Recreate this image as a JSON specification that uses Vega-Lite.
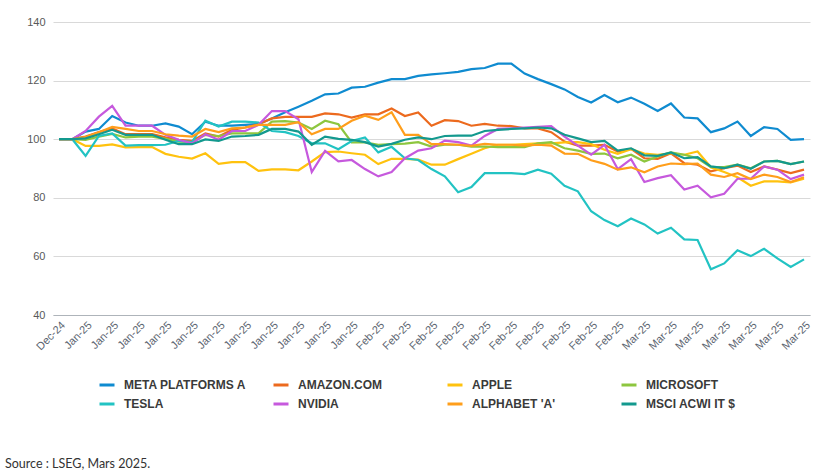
{
  "$schema": "https://vega.github.io/schema/vega-lite/v6.json",
  "width": 757,
  "height": 293,
  "autosize": {"type": "none"},
  "padding": {"left": 53, "top": 22, "right": 27, "bottom": 161},
  "background": "white",
  "title": {
    "text": "Source : LSEG, Mars 2025.",
    "orient": "bottom",
    "anchor": "start",
    "frame": "group",
    "dx": -48,
    "offset": 48,
    "font": "Lato",
    "fontSize": 12.5,
    "fontWeight": "normal",
    "color": "#333333"
  },
  "data": {
    "values": [
      {"d":"2024-12-31","s":"META PLATFORMS A","v":100},{"d":"2025-01-02","s":"META PLATFORMS A","v":100},{"d":"2025-01-03","s":"META PLATFORMS A","v":102.6},{"d":"2025-01-06","s":"META PLATFORMS A","v":103.5},{"d":"2025-01-07","s":"META PLATFORMS A","v":107.9},{"d":"2025-01-08","s":"META PLATFORMS A","v":105.7},{"d":"2025-01-09","s":"META PLATFORMS A","v":104.6},{"d":"2025-01-10","s":"META PLATFORMS A","v":104.6},{"d":"2025-01-13","s":"META PLATFORMS A","v":105.4},{"d":"2025-01-14","s":"META PLATFORMS A","v":104.3},{"d":"2025-01-15","s":"META PLATFORMS A","v":101.7},{"d":"2025-01-16","s":"META PLATFORMS A","v":106},{"d":"2025-01-17","s":"META PLATFORMS A","v":104.6},{"d":"2025-01-20","s":"META PLATFORMS A","v":104.6},{"d":"2025-01-21","s":"META PLATFORMS A","v":104.9},{"d":"2025-01-22","s":"META PLATFORMS A","v":105.2},{"d":"2025-01-23","s":"META PLATFORMS A","v":107.1},{"d":"2025-01-24","s":"META PLATFORMS A","v":109.2},{"d":"2025-01-27","s":"META PLATFORMS A","v":111.1},{"d":"2025-01-28","s":"META PLATFORMS A","v":113.1},{"d":"2025-01-29","s":"META PLATFORMS A","v":115.3},{"d":"2025-01-30","s":"META PLATFORMS A","v":115.6},{"d":"2025-01-31","s":"META PLATFORMS A","v":117.6},{"d":"2025-02-03","s":"META PLATFORMS A","v":117.9},{"d":"2025-02-04","s":"META PLATFORMS A","v":119.3},{"d":"2025-02-05","s":"META PLATFORMS A","v":120.5},{"d":"2025-02-06","s":"META PLATFORMS A","v":120.5},{"d":"2025-02-07","s":"META PLATFORMS A","v":121.6},{"d":"2025-02-10","s":"META PLATFORMS A","v":122.1},{"d":"2025-02-11","s":"META PLATFORMS A","v":122.5},{"d":"2025-02-12","s":"META PLATFORMS A","v":123},{"d":"2025-02-13","s":"META PLATFORMS A","v":123.9},{"d":"2025-02-14","s":"META PLATFORMS A","v":124.3},{"d":"2025-02-17","s":"META PLATFORMS A","v":125.8},{"d":"2025-02-18","s":"META PLATFORMS A","v":125.8},{"d":"2025-02-19","s":"META PLATFORMS A","v":122.4},{"d":"2025-02-20","s":"META PLATFORMS A","v":120.5},{"d":"2025-02-21","s":"META PLATFORMS A","v":118.8},{"d":"2025-02-24","s":"META PLATFORMS A","v":117},{"d":"2025-02-25","s":"META PLATFORMS A","v":114.4},{"d":"2025-02-26","s":"META PLATFORMS A","v":112.5},{"d":"2025-02-27","s":"META PLATFORMS A","v":115.1},{"d":"2025-02-28","s":"META PLATFORMS A","v":112.6},{"d":"2025-03-03","s":"META PLATFORMS A","v":114.2},{"d":"2025-03-04","s":"META PLATFORMS A","v":112.1},{"d":"2025-03-05","s":"META PLATFORMS A","v":109.6},{"d":"2025-03-06","s":"META PLATFORMS A","v":112.2},{"d":"2025-03-07","s":"META PLATFORMS A","v":107.4},{"d":"2025-03-10","s":"META PLATFORMS A","v":107.1},{"d":"2025-03-11","s":"META PLATFORMS A","v":102.4},{"d":"2025-03-12","s":"META PLATFORMS A","v":103.7},{"d":"2025-03-13","s":"META PLATFORMS A","v":106},{"d":"2025-03-14","s":"META PLATFORMS A","v":101.1},{"d":"2025-03-17","s":"META PLATFORMS A","v":104.1},{"d":"2025-03-18","s":"META PLATFORMS A","v":103.5},{"d":"2025-03-19","s":"META PLATFORMS A","v":99.8},{"d":"2025-03-20","s":"META PLATFORMS A","v":100},

      {"d":"2024-12-31","s":"AMAZON.COM","v":100},{"d":"2025-01-02","s":"AMAZON.COM","v":100},{"d":"2025-01-03","s":"AMAZON.COM","v":100.9},{"d":"2025-01-06","s":"AMAZON.COM","v":102.4},{"d":"2025-01-07","s":"AMAZON.COM","v":103.7},{"d":"2025-01-08","s":"AMAZON.COM","v":101.7},{"d":"2025-01-09","s":"AMAZON.COM","v":101.7},{"d":"2025-01-10","s":"AMAZON.COM","v":101.7},{"d":"2025-01-13","s":"AMAZON.COM","v":100.6},{"d":"2025-01-14","s":"AMAZON.COM","v":99.8},{"d":"2025-01-15","s":"AMAZON.COM","v":99.4},{"d":"2025-01-16","s":"AMAZON.COM","v":102},{"d":"2025-01-17","s":"AMAZON.COM","v":100.9},{"d":"2025-01-20","s":"AMAZON.COM","v":103.2},{"d":"2025-01-21","s":"AMAZON.COM","v":104},{"d":"2025-01-22","s":"AMAZON.COM","v":105.1},{"d":"2025-01-23","s":"AMAZON.COM","v":107.1},{"d":"2025-01-24","s":"AMAZON.COM","v":107.6},{"d":"2025-01-27","s":"AMAZON.COM","v":107.6},{"d":"2025-01-28","s":"AMAZON.COM","v":107.6},{"d":"2025-01-29","s":"AMAZON.COM","v":108.8},{"d":"2025-01-30","s":"AMAZON.COM","v":108.5},{"d":"2025-01-31","s":"AMAZON.COM","v":107.4},{"d":"2025-02-03","s":"AMAZON.COM","v":108.5},{"d":"2025-02-04","s":"AMAZON.COM","v":108.5},{"d":"2025-02-05","s":"AMAZON.COM","v":110.5},{"d":"2025-02-06","s":"AMAZON.COM","v":107.9},{"d":"2025-02-07","s":"AMAZON.COM","v":109.1},{"d":"2025-02-10","s":"AMAZON.COM","v":104.6},{"d":"2025-02-11","s":"AMAZON.COM","v":106.5},{"d":"2025-02-12","s":"AMAZON.COM","v":106.2},{"d":"2025-02-13","s":"AMAZON.COM","v":104.6},{"d":"2025-02-14","s":"AMAZON.COM","v":105.2},{"d":"2025-02-17","s":"AMAZON.COM","v":104.6},{"d":"2025-02-18","s":"AMAZON.COM","v":104.5},{"d":"2025-02-19","s":"AMAZON.COM","v":103.7},{"d":"2025-02-20","s":"AMAZON.COM","v":103.7},{"d":"2025-02-21","s":"AMAZON.COM","v":102.4},{"d":"2025-02-24","s":"AMAZON.COM","v":99.2},{"d":"2025-02-25","s":"AMAZON.COM","v":97.8},{"d":"2025-02-26","s":"AMAZON.COM","v":97.8},{"d":"2025-02-27","s":"AMAZON.COM","v":98.1},{"d":"2025-02-28","s":"AMAZON.COM","v":95.8},{"d":"2025-03-03","s":"AMAZON.COM","v":96.7},{"d":"2025-03-04","s":"AMAZON.COM","v":93.5},{"d":"2025-03-05","s":"AMAZON.COM","v":93.3},{"d":"2025-03-06","s":"AMAZON.COM","v":95.2},{"d":"2025-03-07","s":"AMAZON.COM","v":91.8},{"d":"2025-03-10","s":"AMAZON.COM","v":91.3},{"d":"2025-03-11","s":"AMAZON.COM","v":89},{"d":"2025-03-12","s":"AMAZON.COM","v":90.1},{"d":"2025-03-13","s":"AMAZON.COM","v":91},{"d":"2025-03-14","s":"AMAZON.COM","v":88.8},{"d":"2025-03-17","s":"AMAZON.COM","v":90.7},{"d":"2025-03-18","s":"AMAZON.COM","v":89.6},{"d":"2025-03-19","s":"AMAZON.COM","v":88.4},{"d":"2025-03-20","s":"AMAZON.COM","v":89.6},

      {"d":"2024-12-31","s":"APPLE","v":100},{"d":"2025-01-02","s":"APPLE","v":100},{"d":"2025-01-03","s":"APPLE","v":97.7},{"d":"2025-01-06","s":"APPLE","v":97.7},{"d":"2025-01-07","s":"APPLE","v":98.2},{"d":"2025-01-08","s":"APPLE","v":97.2},{"d":"2025-01-09","s":"APPLE","v":97.3},{"d":"2025-01-10","s":"APPLE","v":97.3},{"d":"2025-01-13","s":"APPLE","v":95},{"d":"2025-01-14","s":"APPLE","v":94},{"d":"2025-01-15","s":"APPLE","v":93.4},{"d":"2025-01-16","s":"APPLE","v":95.2},{"d":"2025-01-17","s":"APPLE","v":91.6},{"d":"2025-01-20","s":"APPLE","v":92.2},{"d":"2025-01-21","s":"APPLE","v":92.2},{"d":"2025-01-22","s":"APPLE","v":89.2},{"d":"2025-01-23","s":"APPLE","v":89.7},{"d":"2025-01-24","s":"APPLE","v":89.7},{"d":"2025-01-27","s":"APPLE","v":89.4},{"d":"2025-01-28","s":"APPLE","v":92.4},{"d":"2025-01-29","s":"APPLE","v":95.6},{"d":"2025-01-30","s":"APPLE","v":95.8},{"d":"2025-01-31","s":"APPLE","v":95.2},{"d":"2025-02-03","s":"APPLE","v":94.7},{"d":"2025-02-04","s":"APPLE","v":91.5},{"d":"2025-02-05","s":"APPLE","v":93.3},{"d":"2025-02-06","s":"APPLE","v":93.3},{"d":"2025-02-07","s":"APPLE","v":93},{"d":"2025-02-10","s":"APPLE","v":91.3},{"d":"2025-02-11","s":"APPLE","v":91.3},{"d":"2025-02-12","s":"APPLE","v":93.2},{"d":"2025-02-13","s":"APPLE","v":95},{"d":"2025-02-14","s":"APPLE","v":96.9},{"d":"2025-02-17","s":"APPLE","v":98.1},{"d":"2025-02-18","s":"APPLE","v":98.1},{"d":"2025-02-19","s":"APPLE","v":98.3},{"d":"2025-02-20","s":"APPLE","v":98.6},{"d":"2025-02-21","s":"APPLE","v":98.6},{"d":"2025-02-24","s":"APPLE","v":98.9},{"d":"2025-02-25","s":"APPLE","v":99},{"d":"2025-02-26","s":"APPLE","v":98.3},{"d":"2025-02-27","s":"APPLE","v":96.4},{"d":"2025-02-28","s":"APPLE","v":95},{"d":"2025-03-03","s":"APPLE","v":96.6},{"d":"2025-03-04","s":"APPLE","v":95.1},{"d":"2025-03-05","s":"APPLE","v":94.7},{"d":"2025-03-06","s":"APPLE","v":95.2},{"d":"2025-03-07","s":"APPLE","v":94.7},{"d":"2025-03-10","s":"APPLE","v":95.8},{"d":"2025-03-11","s":"APPLE","v":90.4},{"d":"2025-03-12","s":"APPLE","v":88.8},{"d":"2025-03-13","s":"APPLE","v":87},{"d":"2025-03-14","s":"APPLE","v":84.1},{"d":"2025-03-17","s":"APPLE","v":85.6},{"d":"2025-03-18","s":"APPLE","v":85.6},{"d":"2025-03-19","s":"APPLE","v":85.3},{"d":"2025-03-20","s":"APPLE","v":86.5},

      {"d":"2024-12-31","s":"MICROSOFT","v":100},{"d":"2025-01-02","s":"MICROSOFT","v":100},{"d":"2025-01-03","s":"MICROSOFT","v":99.8},{"d":"2025-01-06","s":"MICROSOFT","v":100.9},{"d":"2025-01-07","s":"MICROSOFT","v":101.8},{"d":"2025-01-08","s":"MICROSOFT","v":100.6},{"d":"2025-01-09","s":"MICROSOFT","v":100.9},{"d":"2025-01-10","s":"MICROSOFT","v":100.9},{"d":"2025-01-13","s":"MICROSOFT","v":100.1},{"d":"2025-01-14","s":"MICROSOFT","v":99.2},{"d":"2025-01-15","s":"MICROSOFT","v":99},{"d":"2025-01-16","s":"MICROSOFT","v":101.5},{"d":"2025-01-17","s":"MICROSOFT","v":101.1},{"d":"2025-01-20","s":"MICROSOFT","v":102},{"d":"2025-01-21","s":"MICROSOFT","v":102},{"d":"2025-01-22","s":"MICROSOFT","v":102},{"d":"2025-01-23","s":"MICROSOFT","v":106},{"d":"2025-01-24","s":"MICROSOFT","v":106.2},{"d":"2025-01-27","s":"MICROSOFT","v":105.7},{"d":"2025-01-28","s":"MICROSOFT","v":103.5},{"d":"2025-01-29","s":"MICROSOFT","v":106.3},{"d":"2025-01-30","s":"MICROSOFT","v":105.1},{"d":"2025-01-31","s":"MICROSOFT","v":98.9},{"d":"2025-02-03","s":"MICROSOFT","v":98.9},{"d":"2025-02-04","s":"MICROSOFT","v":98.1},{"d":"2025-02-05","s":"MICROSOFT","v":98.3},{"d":"2025-02-06","s":"MICROSOFT","v":98.5},{"d":"2025-02-07","s":"MICROSOFT","v":99},{"d":"2025-02-10","s":"MICROSOFT","v":97.5},{"d":"2025-02-11","s":"MICROSOFT","v":98.1},{"d":"2025-02-12","s":"MICROSOFT","v":98.1},{"d":"2025-02-13","s":"MICROSOFT","v":97.5},{"d":"2025-02-14","s":"MICROSOFT","v":97.5},{"d":"2025-02-17","s":"MICROSOFT","v":97.3},{"d":"2025-02-18","s":"MICROSOFT","v":97.3},{"d":"2025-02-19","s":"MICROSOFT","v":97.3},{"d":"2025-02-20","s":"MICROSOFT","v":98.6},{"d":"2025-02-21","s":"MICROSOFT","v":99},{"d":"2025-02-24","s":"MICROSOFT","v":96.9},{"d":"2025-02-25","s":"MICROSOFT","v":96.1},{"d":"2025-02-26","s":"MICROSOFT","v":95},{"d":"2025-02-27","s":"MICROSOFT","v":95.1},{"d":"2025-02-28","s":"MICROSOFT","v":93.5},{"d":"2025-03-03","s":"MICROSOFT","v":94.7},{"d":"2025-03-04","s":"MICROSOFT","v":92.4},{"d":"2025-03-05","s":"MICROSOFT","v":94.1},{"d":"2025-03-06","s":"MICROSOFT","v":95.5},{"d":"2025-03-07","s":"MICROSOFT","v":94.7},{"d":"2025-03-10","s":"MICROSOFT","v":93.5},{"d":"2025-03-11","s":"MICROSOFT","v":90.5},{"d":"2025-03-12","s":"MICROSOFT","v":90.5},{"d":"2025-03-13","s":"MICROSOFT","v":91.3},{"d":"2025-03-14","s":"MICROSOFT","v":90.1},{"d":"2025-03-17","s":"MICROSOFT","v":92.4},{"d":"2025-03-18","s":"MICROSOFT","v":92.6},{"d":"2025-03-19","s":"MICROSOFT","v":91.5},{"d":"2025-03-20","s":"MICROSOFT","v":92.4},

      {"d":"2024-12-31","s":"TESLA","v":100},{"d":"2025-01-02","s":"TESLA","v":100},{"d":"2025-01-03","s":"TESLA","v":94.3},{"d":"2025-01-06","s":"TESLA","v":101.1},{"d":"2025-01-07","s":"TESLA","v":102},{"d":"2025-01-08","s":"TESLA","v":97.8},{"d":"2025-01-09","s":"TESLA","v":98},{"d":"2025-01-10","s":"TESLA","v":98},{"d":"2025-01-13","s":"TESLA","v":98.1},{"d":"2025-01-14","s":"TESLA","v":99.4},{"d":"2025-01-15","s":"TESLA","v":99},{"d":"2025-01-16","s":"TESLA","v":106.3},{"d":"2025-01-17","s":"TESLA","v":104.3},{"d":"2025-01-20","s":"TESLA","v":106},{"d":"2025-01-21","s":"TESLA","v":106},{"d":"2025-01-22","s":"TESLA","v":105.7},{"d":"2025-01-23","s":"TESLA","v":102.8},{"d":"2025-01-24","s":"TESLA","v":102.4},{"d":"2025-01-27","s":"TESLA","v":101.1},{"d":"2025-01-28","s":"TESLA","v":98.6},{"d":"2025-01-29","s":"TESLA","v":98.6},{"d":"2025-01-30","s":"TESLA","v":96.6},{"d":"2025-01-31","s":"TESLA","v":99.4},{"d":"2025-02-03","s":"TESLA","v":100.6},{"d":"2025-02-04","s":"TESLA","v":95.5},{"d":"2025-02-05","s":"TESLA","v":97.4},{"d":"2025-02-06","s":"TESLA","v":93.5},{"d":"2025-02-07","s":"TESLA","v":92.9},{"d":"2025-02-10","s":"TESLA","v":89.8},{"d":"2025-02-11","s":"TESLA","v":87.3},{"d":"2025-02-12","s":"TESLA","v":81.9},{"d":"2025-02-13","s":"TESLA","v":83.7},{"d":"2025-02-14","s":"TESLA","v":88.4},{"d":"2025-02-17","s":"TESLA","v":88.4},{"d":"2025-02-18","s":"TESLA","v":88.4},{"d":"2025-02-19","s":"TESLA","v":88.1},{"d":"2025-02-20","s":"TESLA","v":89.6},{"d":"2025-02-21","s":"TESLA","v":88.2},{"d":"2025-02-24","s":"TESLA","v":84.1},{"d":"2025-02-25","s":"TESLA","v":82.2},{"d":"2025-02-26","s":"TESLA","v":75.4},{"d":"2025-02-27","s":"TESLA","v":72.4},{"d":"2025-02-28","s":"TESLA","v":70.3},{"d":"2025-03-03","s":"TESLA","v":72.9},{"d":"2025-03-04","s":"TESLA","v":70.9},{"d":"2025-03-05","s":"TESLA","v":67.8},{"d":"2025-03-06","s":"TESLA","v":69.8},{"d":"2025-03-07","s":"TESLA","v":65.8},{"d":"2025-03-10","s":"TESLA","v":65.6},{"d":"2025-03-11","s":"TESLA","v":55.6},{"d":"2025-03-12","s":"TESLA","v":57.6},{"d":"2025-03-13","s":"TESLA","v":62.1},{"d":"2025-03-14","s":"TESLA","v":60.1},{"d":"2025-03-17","s":"TESLA","v":62.6},{"d":"2025-03-18","s":"TESLA","v":59.3},{"d":"2025-03-19","s":"TESLA","v":56.4},{"d":"2025-03-20","s":"TESLA","v":59},

      {"d":"2024-12-31","s":"NVIDIA","v":100},{"d":"2025-01-02","s":"NVIDIA","v":100},{"d":"2025-01-03","s":"NVIDIA","v":102.8},{"d":"2025-01-06","s":"NVIDIA","v":107.7},{"d":"2025-01-07","s":"NVIDIA","v":111.4},{"d":"2025-01-08","s":"NVIDIA","v":104.6},{"d":"2025-01-09","s":"NVIDIA","v":104.6},{"d":"2025-01-10","s":"NVIDIA","v":104.6},{"d":"2025-01-13","s":"NVIDIA","v":101.5},{"d":"2025-01-14","s":"NVIDIA","v":99.8},{"d":"2025-01-15","s":"NVIDIA","v":98.6},{"d":"2025-01-16","s":"NVIDIA","v":101.7},{"d":"2025-01-17","s":"NVIDIA","v":99.8},{"d":"2025-01-20","s":"NVIDIA","v":102.8},{"d":"2025-01-21","s":"NVIDIA","v":102.8},{"d":"2025-01-22","s":"NVIDIA","v":104.9},{"d":"2025-01-23","s":"NVIDIA","v":109.6},{"d":"2025-01-24","s":"NVIDIA","v":109.6},{"d":"2025-01-27","s":"NVIDIA","v":106.8},{"d":"2025-01-28","s":"NVIDIA","v":88.8},{"d":"2025-01-29","s":"NVIDIA","v":96},{"d":"2025-01-30","s":"NVIDIA","v":92.4},{"d":"2025-01-31","s":"NVIDIA","v":92.9},{"d":"2025-02-03","s":"NVIDIA","v":89.8},{"d":"2025-02-04","s":"NVIDIA","v":87.3},{"d":"2025-02-05","s":"NVIDIA","v":88.8},{"d":"2025-02-06","s":"NVIDIA","v":93.5},{"d":"2025-02-07","s":"NVIDIA","v":96.1},{"d":"2025-02-10","s":"NVIDIA","v":96.9},{"d":"2025-02-11","s":"NVIDIA","v":99.5},{"d":"2025-02-12","s":"NVIDIA","v":99},{"d":"2025-02-13","s":"NVIDIA","v":97.8},{"d":"2025-02-14","s":"NVIDIA","v":101.1},{"d":"2025-02-17","s":"NVIDIA","v":103.5},{"d":"2025-02-18","s":"NVIDIA","v":103.7},{"d":"2025-02-19","s":"NVIDIA","v":104},{"d":"2025-02-20","s":"NVIDIA","v":104.2},{"d":"2025-02-21","s":"NVIDIA","v":104.5},{"d":"2025-02-24","s":"NVIDIA","v":100.9},{"d":"2025-02-25","s":"NVIDIA","v":97.8},{"d":"2025-02-26","s":"NVIDIA","v":94.7},{"d":"2025-02-27","s":"NVIDIA","v":98.1},{"d":"2025-02-28","s":"NVIDIA","v":89.8},{"d":"2025-03-03","s":"NVIDIA","v":93.2},{"d":"2025-03-04","s":"NVIDIA","v":85.4},{"d":"2025-03-05","s":"NVIDIA","v":86.7},{"d":"2025-03-06","s":"NVIDIA","v":87.7},{"d":"2025-03-07","s":"NVIDIA","v":82.8},{"d":"2025-03-10","s":"NVIDIA","v":84.1},{"d":"2025-03-11","s":"NVIDIA","v":80.2},{"d":"2025-03-12","s":"NVIDIA","v":81.4},{"d":"2025-03-13","s":"NVIDIA","v":86.5},{"d":"2025-03-14","s":"NVIDIA","v":86.5},{"d":"2025-03-17","s":"NVIDIA","v":90.7},{"d":"2025-03-18","s":"NVIDIA","v":89.6},{"d":"2025-03-19","s":"NVIDIA","v":86.4},{"d":"2025-03-20","s":"NVIDIA","v":87.9},

      {"d":"2024-12-31","s":"ALPHABET 'A'","v":100},{"d":"2025-01-02","s":"ALPHABET 'A'","v":100},{"d":"2025-01-03","s":"ALPHABET 'A'","v":100.7},{"d":"2025-01-06","s":"ALPHABET 'A'","v":102.4},{"d":"2025-01-07","s":"ALPHABET 'A'","v":104.2},{"d":"2025-01-08","s":"ALPHABET 'A'","v":103.5},{"d":"2025-01-09","s":"ALPHABET 'A'","v":102.8},{"d":"2025-01-10","s":"ALPHABET 'A'","v":102.8},{"d":"2025-01-13","s":"ALPHABET 'A'","v":101.7},{"d":"2025-01-14","s":"ALPHABET 'A'","v":101.2},{"d":"2025-01-15","s":"ALPHABET 'A'","v":100.9},{"d":"2025-01-16","s":"ALPHABET 'A'","v":103.5},{"d":"2025-01-17","s":"ALPHABET 'A'","v":102.4},{"d":"2025-01-20","s":"ALPHABET 'A'","v":103.7},{"d":"2025-01-21","s":"ALPHABET 'A'","v":104},{"d":"2025-01-22","s":"ALPHABET 'A'","v":104.9},{"d":"2025-01-23","s":"ALPHABET 'A'","v":104.9},{"d":"2025-01-24","s":"ALPHABET 'A'","v":104.9},{"d":"2025-01-27","s":"ALPHABET 'A'","v":105.8},{"d":"2025-01-28","s":"ALPHABET 'A'","v":101.7},{"d":"2025-01-29","s":"ALPHABET 'A'","v":103.5},{"d":"2025-01-30","s":"ALPHABET 'A'","v":103.5},{"d":"2025-01-31","s":"ALPHABET 'A'","v":106.3},{"d":"2025-02-03","s":"ALPHABET 'A'","v":108},{"d":"2025-02-04","s":"ALPHABET 'A'","v":106.6},{"d":"2025-02-05","s":"ALPHABET 'A'","v":109.2},{"d":"2025-02-06","s":"ALPHABET 'A'","v":101.5},{"d":"2025-02-07","s":"ALPHABET 'A'","v":101.5},{"d":"2025-02-10","s":"ALPHABET 'A'","v":98.3},{"d":"2025-02-11","s":"ALPHABET 'A'","v":98.3},{"d":"2025-02-12","s":"ALPHABET 'A'","v":98.1},{"d":"2025-02-13","s":"ALPHABET 'A'","v":97.7},{"d":"2025-02-14","s":"ALPHABET 'A'","v":98.4},{"d":"2025-02-17","s":"ALPHABET 'A'","v":98.1},{"d":"2025-02-18","s":"ALPHABET 'A'","v":98.1},{"d":"2025-02-19","s":"ALPHABET 'A'","v":97.8},{"d":"2025-02-20","s":"ALPHABET 'A'","v":98.1},{"d":"2025-02-21","s":"ALPHABET 'A'","v":97.8},{"d":"2025-02-24","s":"ALPHABET 'A'","v":95.1},{"d":"2025-02-25","s":"ALPHABET 'A'","v":95},{"d":"2025-02-26","s":"ALPHABET 'A'","v":92.8},{"d":"2025-02-27","s":"ALPHABET 'A'","v":91.6},{"d":"2025-02-28","s":"ALPHABET 'A'","v":89.6},{"d":"2025-03-03","s":"ALPHABET 'A'","v":90.4},{"d":"2025-03-04","s":"ALPHABET 'A'","v":88.7},{"d":"2025-03-05","s":"ALPHABET 'A'","v":90.7},{"d":"2025-03-06","s":"ALPHABET 'A'","v":91.7},{"d":"2025-03-07","s":"ALPHABET 'A'","v":91.5},{"d":"2025-03-10","s":"ALPHABET 'A'","v":91.7},{"d":"2025-03-11","s":"ALPHABET 'A'","v":87.9},{"d":"2025-03-12","s":"ALPHABET 'A'","v":87.1},{"d":"2025-03-13","s":"ALPHABET 'A'","v":88.4},{"d":"2025-03-14","s":"ALPHABET 'A'","v":86.4},{"d":"2025-03-17","s":"ALPHABET 'A'","v":87.9},{"d":"2025-03-18","s":"ALPHABET 'A'","v":87.1},{"d":"2025-03-19","s":"ALPHABET 'A'","v":85.4},{"d":"2025-03-20","s":"ALPHABET 'A'","v":87},

      {"d":"2024-12-31","s":"MSCI ACWI IT $","v":100},{"d":"2025-01-02","s":"MSCI ACWI IT $","v":100},{"d":"2025-01-03","s":"MSCI ACWI IT $","v":100.3},{"d":"2025-01-06","s":"MSCI ACWI IT $","v":101.7},{"d":"2025-01-07","s":"MSCI ACWI IT $","v":103.2},{"d":"2025-01-08","s":"MSCI ACWI IT $","v":101.5},{"d":"2025-01-09","s":"MSCI ACWI IT $","v":101.5},{"d":"2025-01-10","s":"MSCI ACWI IT $","v":101.5},{"d":"2025-01-13","s":"MSCI ACWI IT $","v":99.8},{"d":"2025-01-14","s":"MSCI ACWI IT $","v":98.3},{"d":"2025-01-15","s":"MSCI ACWI IT $","v":98.3},{"d":"2025-01-16","s":"MSCI ACWI IT $","v":99.9},{"d":"2025-01-17","s":"MSCI ACWI IT $","v":99.4},{"d":"2025-01-20","s":"MSCI ACWI IT $","v":100.9},{"d":"2025-01-21","s":"MSCI ACWI IT $","v":101.1},{"d":"2025-01-22","s":"MSCI ACWI IT $","v":101.5},{"d":"2025-01-23","s":"MSCI ACWI IT $","v":103.5},{"d":"2025-01-24","s":"MSCI ACWI IT $","v":103.5},{"d":"2025-01-27","s":"MSCI ACWI IT $","v":102.6},{"d":"2025-01-28","s":"MSCI ACWI IT $","v":98.1},{"d":"2025-01-29","s":"MSCI ACWI IT $","v":100.9},{"d":"2025-01-30","s":"MSCI ACWI IT $","v":100.1},{"d":"2025-01-31","s":"MSCI ACWI IT $","v":99.8},{"d":"2025-02-03","s":"MSCI ACWI IT $","v":99},{"d":"2025-02-04","s":"MSCI ACWI IT $","v":97.5},{"d":"2025-02-05","s":"MSCI ACWI IT $","v":98.4},{"d":"2025-02-06","s":"MSCI ACWI IT $","v":99.8},{"d":"2025-02-07","s":"MSCI ACWI IT $","v":100.6},{"d":"2025-02-10","s":"MSCI ACWI IT $","v":100},{"d":"2025-02-11","s":"MSCI ACWI IT $","v":101.1},{"d":"2025-02-12","s":"MSCI ACWI IT $","v":101.2},{"d":"2025-02-13","s":"MSCI ACWI IT $","v":101.2},{"d":"2025-02-14","s":"MSCI ACWI IT $","v":102.8},{"d":"2025-02-17","s":"MSCI ACWI IT $","v":103.2},{"d":"2025-02-18","s":"MSCI ACWI IT $","v":103.5},{"d":"2025-02-19","s":"MSCI ACWI IT $","v":103.7},{"d":"2025-02-20","s":"MSCI ACWI IT $","v":104},{"d":"2025-02-21","s":"MSCI ACWI IT $","v":103.7},{"d":"2025-02-24","s":"MSCI ACWI IT $","v":101.5},{"d":"2025-02-25","s":"MSCI ACWI IT $","v":100.3},{"d":"2025-02-26","s":"MSCI ACWI IT $","v":99},{"d":"2025-02-27","s":"MSCI ACWI IT $","v":99.4},{"d":"2025-02-28","s":"MSCI ACWI IT $","v":96.1},{"d":"2025-03-03","s":"MSCI ACWI IT $","v":96.9},{"d":"2025-03-04","s":"MSCI ACWI IT $","v":94.5},{"d":"2025-03-05","s":"MSCI ACWI IT $","v":94.3},{"d":"2025-03-06","s":"MSCI ACWI IT $","v":95.5},{"d":"2025-03-07","s":"MSCI ACWI IT $","v":93.5},{"d":"2025-03-10","s":"MSCI ACWI IT $","v":93.9},{"d":"2025-03-11","s":"MSCI ACWI IT $","v":90.7},{"d":"2025-03-12","s":"MSCI ACWI IT $","v":90.1},{"d":"2025-03-13","s":"MSCI ACWI IT $","v":91.3},{"d":"2025-03-14","s":"MSCI ACWI IT $","v":89.9},{"d":"2025-03-17","s":"MSCI ACWI IT $","v":92.4},{"d":"2025-03-18","s":"MSCI ACWI IT $","v":92.6},{"d":"2025-03-19","s":"MSCI ACWI IT $","v":91.5},{"d":"2025-03-20","s":"MSCI ACWI IT $","v":92.4}
    ]
  },
  "mark": {"type": "line", "strokeWidth": 2.2, "strokeJoin": "miter", "clip": true},
  "encoding": {
    "x": {
      "field": "d",
      "type": "ordinal",
      "scale": {"type": "point", "padding": 0.45},
      "axis": {
        "title": null,
        "values": ["2024-12-31","2025-01-03","2025-01-07","2025-01-09","2025-01-13","2025-01-15","2025-01-17","2025-01-21","2025-01-23","2025-01-27","2025-01-29","2025-01-31","2025-02-04","2025-02-06","2025-02-10","2025-02-12","2025-02-14","2025-02-18","2025-02-20","2025-02-24","2025-02-26","2025-02-28","2025-03-04","2025-03-06","2025-03-10","2025-03-12","2025-03-14","2025-03-18","2025-03-20"],
        "labelExpr": "utcFormat(toDate(datum.value), '%b-%y')",
        "labelAngle": -45,
        "labelFont": "Liberation Sans",
        "labelFontSize": 11,
        "labelColor": "#5b6470",
        "labelPadding": 4,
        "ticks": false,
        "domainColor": "#aeb4ba",
        "domainWidth": 1.2,
        "grid": false
      }
    },
    "y": {
      "field": "v",
      "type": "quantitative",
      "scale": {"domain": [40, 140], "nice": false, "zero": false},
      "axis": {
        "title": null,
        "values": [40, 60, 80, 100, 120, 140],
        "labelFont": "Liberation Sans",
        "labelFontSize": 11,
        "labelColor": "#595959",
        "labelPadding": 8,
        "ticks": false,
        "domain": false,
        "gridColor": "#d9d9d9",
        "gridWidth": 1
      }
    },
    "color": {
      "field": "s",
      "type": "nominal",
      "scale": {
        "domain": ["META PLATFORMS A", "AMAZON.COM", "APPLE", "MICROSOFT", "TESLA", "NVIDIA", "ALPHABET 'A'", "MSCI ACWI IT $"],
        "range": ["#0f8bd0", "#ec6a1e", "#ffc20e", "#8dc63f", "#22c3c3", "#c659dd", "#ff9e1b", "#13998e"]
      },
      "legend": {
        "title": null,
        "orient": "none",
        "legendX": 45,
        "legendY": 354,
        "direction": "horizontal",
        "columns": 4,
        "gridAlign": "all",
        "columnPadding": 20,
        "rowPadding": 4,
        "padding": 0,
        "symbolType": "stroke",
        "symbolSize": 225,
        "symbolStrokeWidth": 3,
        "labelOffset": 8,
        "labelFont": "Liberation Sans",
        "labelFontSize": 12,
        "labelFontWeight": "bold",
        "labelColor": "#3a3a3a",
        "labelLimit": 300
      }
    }
  },
  "config": {
    "view": {"stroke": null}
  }
}
